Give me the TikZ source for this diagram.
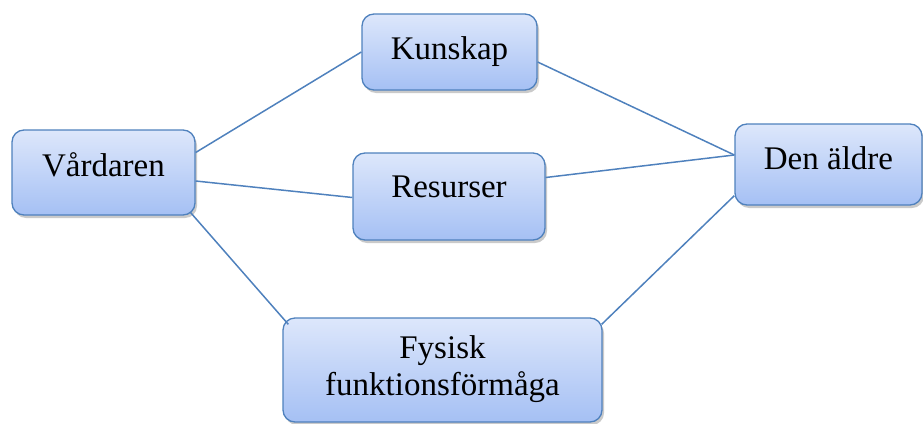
\documentclass[tikz,border=0pt]{standalone}
\usepackage{fontspec}
\setmainfont{Liberation Serif}
\usetikzlibrary{shadows}
\definecolor{edgeblue}{HTML}{4F81BD}
\definecolor{topfill}{HTML}{DDE7FB}
\definecolor{botfill}{HTML}{A5C0F4}
\tikzset{
  box/.style={draw=edgeblue, line width=1.3pt, rounded corners=12pt,
    top color=topfill, bottom color=botfill, inner sep=0pt,
    align=center, font=\fontsize{33}{37}\selectfont,
    drop shadow={shadow xshift=2pt, shadow yshift=-3pt, opacity=0.35, fill=black!60}},
  link/.style={draw=edgeblue, line width=1.5pt}
}
\begin{document}
\begin{tikzpicture}[x=1pt,y=-1pt]
\useasboundingbox (0,0) rectangle (923,423);
\node[box, minimum width=183pt, minimum height=85pt] (v) at (103.5,172.5) {\raisebox{16pt}{Vårdaren}};
\node[box, minimum width=175pt, minimum height=76pt] (k) at (449.5,52) {Kunskap};
\node[box, minimum width=192pt, minimum height=87pt] (r) at (449,196.5) {\raisebox{20pt}{Resurser}};
\node[box, minimum width=187pt, minimum height=81pt] (d) at (828.5,164.5) {\raisebox{12pt}{Den äldre}};
\node[box, minimum width=319pt, minimum height=104pt] (f) at (442.5,370) {\raisebox{-10pt}{\begin{tabular}{c}Fysisk\\[0pt]funktionsförmåga\end{tabular}}};
\draw[link] ([yshift=20pt]v.east) -- (k.west);
\draw[link] ([yshift=-10pt]k.east) -- ([yshift=9.5pt]d.west);
\draw[link] ([yshift=-8.5pt]v.east) -- ([yshift=-1pt]r.west);
\draw[link] ([yshift=19pt]r.east) -- ([yshift=9.5pt]d.west);
\draw[link] ([xshift=-5pt,yshift=3pt]v.south east) -- ([xshift=6pt,yshift=-7pt]f.north west);
\draw[link] ([xshift=-1pt,yshift=-7pt]f.north east) -- ([yshift=10pt]d.south west);
\end{tikzpicture}
\end{document}
